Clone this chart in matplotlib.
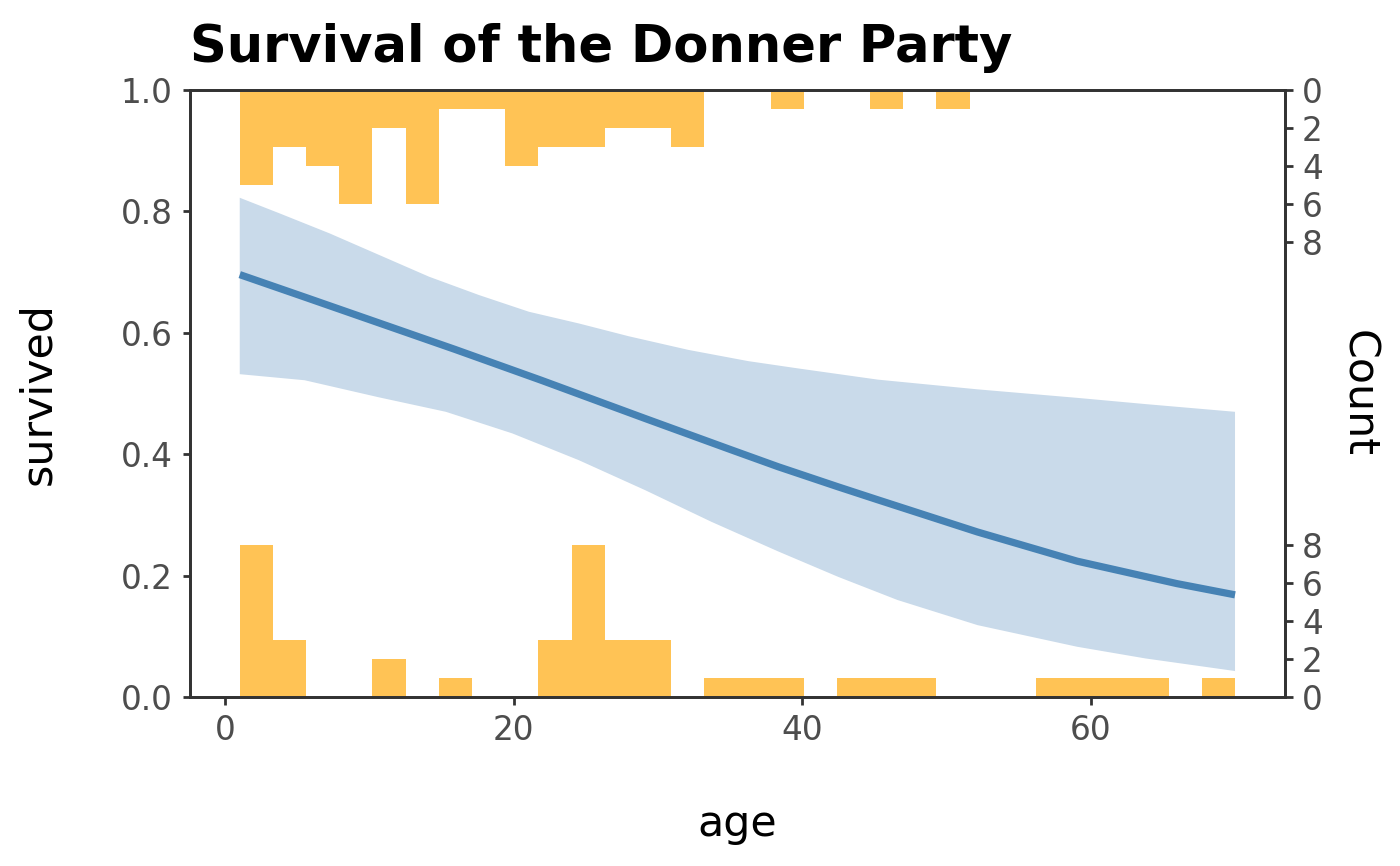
import matplotlib.pyplot as plt
import numpy as np

# Histogram counts (30 bins over age 1..70)
age_min, age_max, n_bins = 1, 70, 30
died_counts = [8, 3, 0, 0, 2, 0, 1, 0, 0, 3, 8, 3, 3, 0, 1,
               1, 1, 0, 1, 1, 1, 0, 0, 0, 1, 1, 1, 1, 0, 1]
survived_counts = [5, 3, 4, 6, 2, 6, 1, 1, 4, 3, 3, 2, 2, 3, 0,
                   0, 1, 0, 0, 1, 0, 1, 0, 0, 0, 0, 0, 0, 0, 0]

# Fitted logistic curve
fit_age = [1, 5.5, 10.7, 15.9, 21.9, 29.1, 35.0, 38.33, 42.47, 45.24, 52.15, 59.05, 65.97, 70]
fit_p = [0.696, 0.659, 0.616, 0.573, 0.522, 0.459, 0.408, 0.3795, 0.3465, 0.325,
         0.272, 0.224, 0.187, 0.1685]

# Confidence band edges
hi_age = [1, 3.77, 7.23, 10.68, 14.13, 17.59, 21.05, 24.5, 27.96, 32.1, 36.25,
          39.7, 45.24, 52.15, 59.05, 63.8, 70]
hi_p = [0.8226, 0.7968, 0.7639, 0.7282, 0.6925, 0.6623, 0.6348, 0.6156, 0.5945, 0.572,
        0.5535, 0.5415, 0.523, 0.507, 0.493, 0.4827, 0.470]
lo_age = [1, 5.5, 10.68, 15.29, 19.9, 24.5, 29.1, 33.7, 38.33, 42.5, 46.6,
          52.15, 59.05, 63.8, 70]
lo_p = [0.532, 0.522, 0.4937, 0.470, 0.4344, 0.3904, 0.341, 0.2888, 0.240, 0.198, 0.16,
        0.1186, 0.083, 0.0637, 0.043]

count_ticks = [0, 2, 4, 6, 8]
count_scale = 0.25 / 8  # one count in survived-axis units

orange = '#FFC355'
band = '#C9DAEA'
line = '#4682B4'
grey = '#4D4D4D'

fig = plt.figure(figsize=(7, 4.33), dpi=200)
ax = fig.add_axes([0.1357, 0.195, 0.782, 0.701])

edges = np.linspace(age_min, age_max, n_bins + 1)
width = edges[1] - edges[0]
died = np.array(died_counts) * count_scale
surv = np.array(survived_counts) * count_scale
ax.bar(edges[:-1], died, width=width, align='edge', color=orange, linewidth=0)
ax.bar(edges[:-1], surv, bottom=1 - surv, width=width, align='edge', color=orange, linewidth=0)

ax.fill(np.r_[hi_age, lo_age[::-1]], np.r_[hi_p, lo_p[::-1]], color=band, linewidth=0)
ax.plot(fit_age, fit_p, color=line, lw=2.6, solid_capstyle='butt', solid_joinstyle='round')

span = age_max - age_min
ax.set_xlim(age_min - 0.05 * span, age_max + 0.05 * span)
ax.set_ylim(0, 1)
ax.set_xticks([0, 20, 40, 60])
ax.set_yticks([0, 0.2, 0.4, 0.6, 0.8, 1.0])
ax.set_yticklabels(['0.0', '0.2', '0.4', '0.6', '0.8', '1.0'])
ax.set_xlabel('age', fontsize=15.4, labelpad=20)
ax.set_ylabel('survived', fontsize=15.4, labelpad=22)
ax.set_title('Survival of the Donner Party', loc='left', fontsize=18.4,
             fontweight='bold', pad=10)

ax2 = ax.twinx()
ax2.set_ylim(0, 1)
pos = [c * count_scale for c in count_ticks] + [1 - c * count_scale for c in count_ticks]
ax2.set_yticks(pos)
ax2.set_yticklabels([str(c) for c in count_ticks] * 2)
ax2.set_ylabel('Count', fontsize=15.4, rotation=270, va='bottom', labelpad=5)

for a in (ax, ax2):
    for s in a.spines.values():
        s.set_color('#333333')
        s.set_linewidth(1.0)
    a.tick_params(colors='#333333', labelcolor=grey, labelsize=11.8, width=1.0, length=2.7)

fig.savefig('out.png', dpi=200)
